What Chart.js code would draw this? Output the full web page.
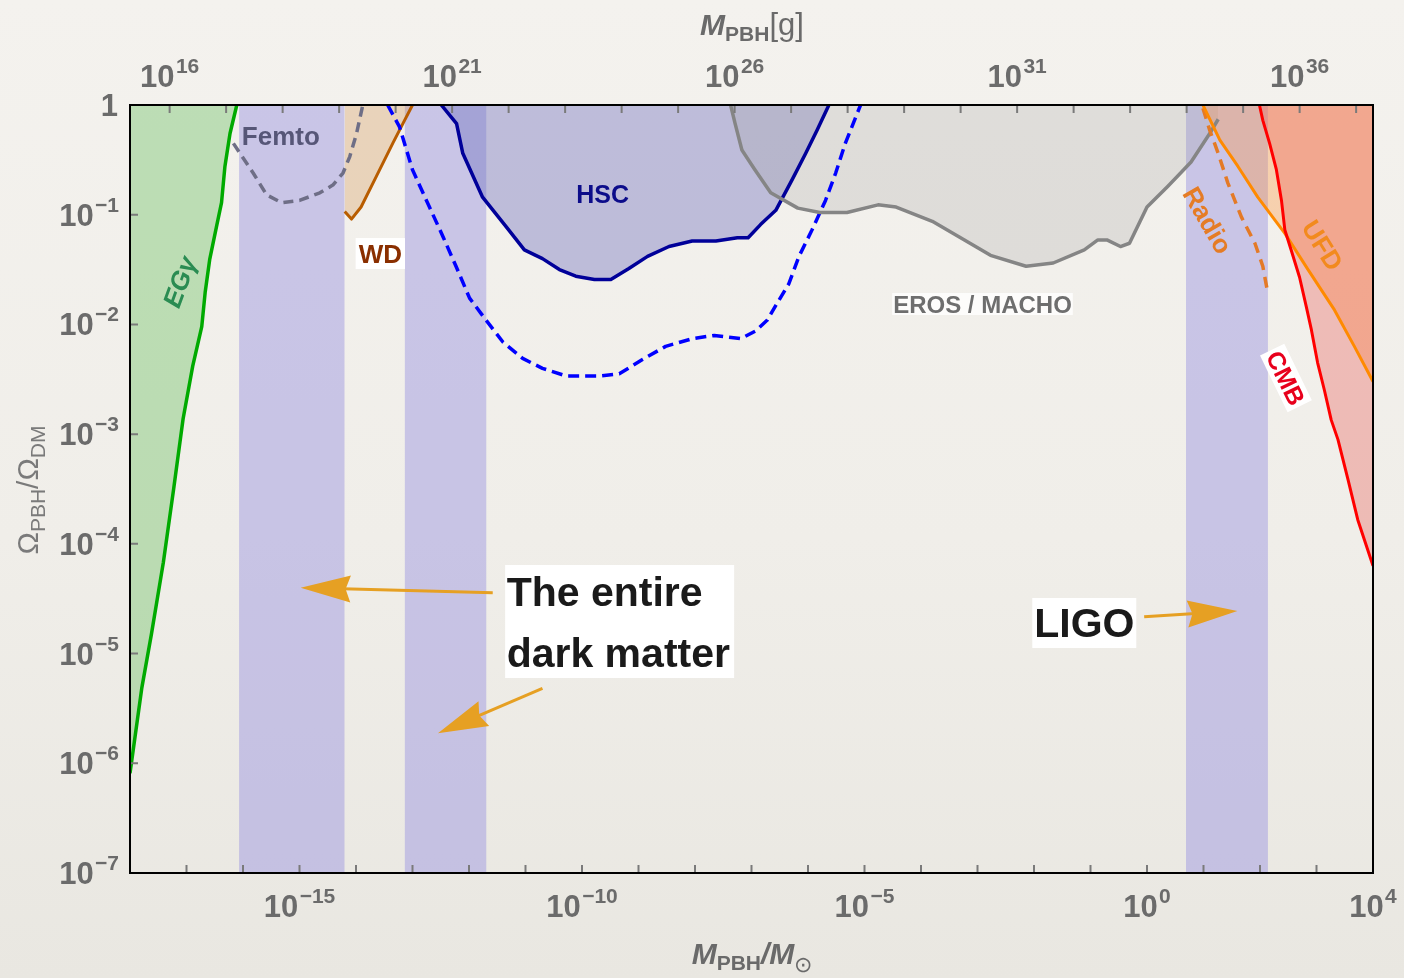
<!DOCTYPE html>
<html lang="en">
<head>
<meta charset="UTF-8">
<title>PBH abundance constraints</title>
<script src="https://cdn.jsdelivr.net/npm/chart.js"></script>
<style>
  html, body { margin: 0; padding: 0; }
  body {
    width: 1404px; height: 978px; overflow: hidden;
    background: linear-gradient(180deg, #f4f2ee 0%, #f0eee9 55%, #e9e7e1 100%);
  }
  .wrap { position: relative; width: 1404px; height: 978px; }
</style>
</head>
<body>
<div class="wrap"><canvas id="pbhChart"></canvas></div>

<script>
// All curves as log10 values:
// logM = log10(M_PBH / M_sun), logF = log10(Omega_PBH / Omega_DM)
const egLogM = [-18, -17.79, -17.62, -17.41, -17.23, -17.06, -16.89, -16.73, -16.67, -16.59, -16.47, -16.38, -16.32, -16.23, -16.11];
const egLogF = [-6.09, -5.31, -4.82, -4.17, -3.51, -2.86, -2.38, -2.02, -1.71, -1.41, -1.11, -0.89, -0.56, -0.26, 0];

const femtoLogM = [-16.17, -15.82, -15.58, -15.32, -15.00, -14.64, -14.41, -14.23, -14.11, -13.99, -13.88];
const femtoLogF = [-0.35, -0.62, -0.82, -0.89, -0.87, -0.80, -0.73, -0.62, -0.47, -0.26, 0];

const wdLogM = [-14.20, -14.08, -13.91, -13.64, -13.35, -13.17, -13.00];
const wdLogF = [-0.97, -1.04, -0.93, -0.65, -0.35, -0.17, 0];

const hscLogM = [-12.49, -12.22, -12.11, -11.76, -11.34, -11.02, -10.70, -10.40, -10.11, -9.78, -9.49, -9.17, -8.84, -8.46, -8.05, -7.63, -7.25, -7.06, -6.84, -6.57, -6.28, -6.04, -5.84, -5.63];
const hscLogF = [0, -0.17, -0.44, -0.84, -1.11, -1.32, -1.40, -1.50, -1.56, -1.59, -1.59, -1.49, -1.38, -1.29, -1.24, -1.24, -1.21, -1.21, -1.09, -0.96, -0.68, -0.44, -0.23, 0];

const hscProjLogM = [-13.44, -13.23, -13.00, -12.70, -12.46, -12.23, -11.99, -11.70, -11.40, -11.05, -10.70, -10.28, -9.70, -9.34, -8.93, -8.52, -8.05, -7.66, -7.19, -6.93, -6.72, -6.55, -6.34, -6.16, -5.93, -5.69, -5.51, -5.34, -5.07];
const hscProjLogF = [0, -0.20, -0.59, -0.93, -1.20, -1.47, -1.76, -1.96, -2.16, -2.31, -2.40, -2.47, -2.47, -2.45, -2.32, -2.20, -2.13, -2.10, -2.13, -2.06, -1.96, -1.81, -1.63, -1.38, -1.14, -0.87, -0.62, -0.35, 0];

const erosLogM = [-7.37, -7.29, -7.17, -6.94, -6.66, -6.18, -5.79, -5.31, -4.76, -4.44, -3.80, -3.33, -2.77, -2.14, -1.66, -1.11, -0.87, -0.71, -0.47, -0.31, 0.00, 0.37, 0.78, 1.11, 1.26];
const erosLogF = [0, -0.17, -0.41, -0.59, -0.80, -0.94, -0.98, -0.98, -0.91, -0.93, -1.06, -1.20, -1.37, -1.47, -1.44, -1.32, -1.23, -1.23, -1.29, -1.26, -0.93, -0.74, -0.52, -0.26, -0.13];

const radioLogM = [0.99, 1.11, 1.26, 1.43, 1.67, 1.91, 2.05, 2.14];
const radioLogF = [-0.03, -0.23, -0.44, -0.71, -1.02, -1.26, -1.47, -1.72];

const ufdLogM = [0.99, 1.29, 1.61, 1.96, 2.44, 2.85, 3.32, 3.67, 4.0];
const ufdLogF = [0, -0.32, -0.56, -0.84, -1.17, -1.50, -1.87, -2.20, -2.52];

const cmbLogM = [1.99, 2.05, 2.17, 2.29, 2.38, 2.44, 2.55, 2.70, 2.82, 2.91, 3.02, 3.14, 3.26, 3.38, 3.56, 3.73, 4.0];
const cmbLogF = [0, -0.14, -0.35, -0.59, -0.87, -1.14, -1.32, -1.57, -1.84, -2.05, -2.35, -2.60, -2.87, -3.05, -3.42, -3.78, -4.20];

// mass windows where PBHs could be the entire dark matter (log10 M/M_sun)
const bandStartLogM = [-16.07, -13.14, 0.69];
const bandEndLogM = [-14.20, -11.69, 2.14];

// axis ticks (exponents)
const bottomTickExps = [-18, -17, -16, -15, -14, -13, -12, -11, -10, -9, -8, -7, -6, -5, -4, -3, -2, -1, 0, 1, 2, 3, 4];
const bottomLabelExps = [-15, -10, -5, 0, 4];
const topTickExps = [16, 17, 18, 19, 20, 21, 22, 23, 24, 25, 26, 27, 28, 29, 30, 31, 32, 33, 34, 35, 36, 37];
const topLabelExps = [16, 21, 26, 31, 36];
const leftTickExps = [-7, -6, -5, -4, -3, -2, -1, 0];
const solarMassGrams = 1.989e33;

const SANS = "'Liberation Sans', Arial, Helvetica, sans-serif";
const TICK_GRAY = '#6b6b6b';

function curve(logM, logF) {
  return logM.map((m, i) => ({ x: Math.pow(10, m), y: Math.pow(10, logF[i]) }));
}

function line(label, logM, logF, color, width, extra) {
  return Object.assign({
    label: label,
    data: curve(logM, logF),
    borderColor: color,
    borderWidth: width,
    pointRadius: 0,
    tension: 0,
    borderJoinStyle: 'round',
    fill: false
  }, extra || {});
}

const bandSets = bandStartLogM.map((s, i) => ({
  label: 'DM window ' + (i + 1),
  data: [{ x: Math.pow(10, s), y: 1 }, { x: Math.pow(10, bandEndLogM[i]), y: 1 }],
  borderWidth: 0,
  pointRadius: 0,
  fill: 'start',
  backgroundColor: 'rgba(150, 145, 225, 0.45)'
}));

const datasets = [
  line('CMB', cmbLogM, cmbLogF, '#ff0000', 3, { fill: 'end', backgroundColor: 'rgba(232, 92, 85, 0.35)' }),
  line('UFD', ufdLogM, ufdLogF, '#ff8a00', 3, { fill: 'end', backgroundColor: 'rgba(255, 150, 60, 0.35)' }),
  line('Radio', radioLogM, radioLogF, '#e47a26', 3.5, { borderDash: [11, 7] }),
  line('EROS/MACHO', erosLogM, erosLogF, '#858585', 3.5, { fill: 'end', backgroundColor: 'rgba(160, 160, 160, 0.24)' }),
  line('HSC future', hscProjLogM, hscProjLogF, '#0000ff', 3.5, { borderDash: [11, 6] }),
  line('HSC', hscLogM, hscLogF, '#000099', 3.5, { fill: 'end', backgroundColor: 'rgba(110, 110, 190, 0.40)' }),
  line('WD', wdLogM, wdLogF, '#b85c00', 3, { fill: 'end', backgroundColor: 'rgba(210, 150, 80, 0.32)' }),
  line('Femto', femtoLogM, femtoLogF, '#6e6e86', 3.5, { borderDash: [10, 6] }),
  line('EGgamma', egLogM, egLogF, '#00aa00', 3.5, { fill: 'end', backgroundColor: 'rgba(100, 190, 90, 0.38)' })
].concat(bandSets);

// text made of runs [text, font, dy]
function drawRuns(ctx, runs, x, y, align) {
  let total = 0;
  runs.forEach(r => { ctx.font = r[1]; total += ctx.measureText(r[0]).width; });
  let cx = align === 'center' ? x - total / 2 : (align === 'right' ? x - total : x);
  ctx.textAlign = 'left';
  ctx.textBaseline = 'alphabetic';
  runs.forEach(r => {
    ctx.font = r[1];
    ctx.fillText(r[0], cx, y + r[2]);
    cx += ctx.measureText(r[0]).width;
  });
}

function powerRuns(exp) {
  const sup = exp < 0 ? '\u2212' + Math.abs(exp) : String(exp);
  return [['10', 'bold 31px ' + SANS, 0], ['\u2009', '7px ' + SANS, 0], [sup, 'bold 21px ' + SANS, -14]];
}

function textLabel(ctx, text, x, y, o) {
  ctx.save();
  ctx.translate(x, y);
  ctx.rotate((o.angle || 0) * Math.PI / 180);
  ctx.font = o.font;
  const w = ctx.measureText(text).width;
  if (o.box) {
    ctx.fillStyle = o.box;
    ctx.fillRect(-w / 2 - o.padX, -o.boxH / 2, w + 2 * o.padX, o.boxH);
  }
  ctx.fillStyle = o.color;
  ctx.textAlign = 'center';
  ctx.textBaseline = 'alphabetic';
  ctx.fillText(text, 0, o.size * 0.36);
  ctx.restore();
}

function arrow(ctx, x0, y0, x1, y1) {
  const dx = x1 - x0, dy = y1 - y0;
  const len = Math.sqrt(dx * dx + dy * dy);
  const ux = dx / len, uy = dy / len;
  const nx = -uy, ny = ux;
  ctx.save();
  ctx.strokeStyle = '#e6a023';
  ctx.fillStyle = '#e6a023';
  ctx.lineWidth = 3;
  ctx.beginPath();
  ctx.moveTo(x0, y0);
  ctx.lineTo(x1 - ux * 42, y1 - uy * 42);
  ctx.stroke();
  ctx.beginPath();
  ctx.moveTo(x1, y1);
  ctx.lineTo(x1 - ux * 50 + nx * 13.5, y1 - uy * 50 + ny * 13.5);
  ctx.lineTo(x1 - ux * 45, y1 - uy * 45);
  ctx.lineTo(x1 - ux * 50 - nx * 13.5, y1 - uy * 50 - ny * 13.5);
  ctx.closePath();
  ctx.fill();
  ctx.restore();
}

const pbhDecor = {
  id: 'pbhDecor',
  afterDatasetsDraw(chart) {
    const ctx = chart.ctx;
    const xs = chart.scales.x, ys = chart.scales.y;
    const px = v => xs.getPixelForValue(Math.pow(10, v));
    const py = v => ys.getPixelForValue(Math.pow(10, v));

    textLabel(ctx, 'Femto', px(-15.33), py(-0.283), { font: 'bold 26px ' + SANS, size: 26, color: '#565677' });
    textLabel(ctx, 'WD', px(-13.57), py(-1.354), { font: 'bold 26px ' + SANS, size: 26, color: '#8a2f00', box: '#ffffff', padX: 3, boxH: 31 });
    textLabel(ctx, 'HSC', px(-9.634), py(-0.811), { font: 'bold 25px ' + SANS, size: 25, color: '#0c0c8a' });
    textLabel(ctx, 'EG\u03b3', px(-17.13), py(-1.613), { font: 'italic bold 26px ' + SANS, size: 26, color: '#2a8c52', angle: -70 });
    textLabel(ctx, 'EROS / MACHO', px(-2.912), py(-1.814), { font: 'bold 24px ' + SANS, size: 24, color: '#6e6e6e', box: 'rgba(255,255,255,0.8)', padX: 1, boxH: 22 });
    textLabel(ctx, 'Radio', px(1.08), py(-1.048), { font: 'bold 26px ' + SANS, size: 26, color: '#e57c25', angle: 60 });
    textLabel(ctx, 'UFD', px(3.113), py(-1.276), { font: 'bold 26px ' + SANS, size: 26, color: '#f28a1e', angle: 58 });
    textLabel(ctx, 'CMB', px(2.459), py(-2.488), { font: 'bold 25px ' + SANS, size: 25, color: '#e8001c', angle: 64, box: '#ffffff', padX: 3, boxH: 27 });

    // "The entire dark matter" box
    const dmX = px(-9.334), dmY = py(-4.708);
    ctx.save();
    ctx.fillStyle = '#ffffff';
    ctx.fillRect(dmX - 114.5, dmY - 56.5, 229, 113);
    ctx.fillStyle = '#1a1a1a';
    ctx.font = 'bold 41px ' + SANS;
    ctx.textAlign = 'left';
    ctx.textBaseline = 'alphabetic';
    ctx.fillText('The entire', dmX - 113, dmY - 16);
    ctx.fillText('dark matter', dmX - 113, dmY + 45);
    // LIGO box
    const lgX = px(-1.11), lgY = py(-4.721);
    ctx.fillStyle = '#ffffff';
    ctx.fillRect(lgX - 52, lgY - 25, 104, 50);
    ctx.fillStyle = '#1a1a1a';
    ctx.fillText('LIGO', lgX - 50, lgY + 14);
    ctx.restore();

    arrow(ctx, px(-11.58), py(-4.445), px(-14.98), py(-4.40));
    arrow(ctx, px(-10.70), py(-5.317), px(-12.55), py(-5.727));
    arrow(ctx, px(-0.05), py(-4.664), px(1.60), py(-4.612));
  },
  afterDraw(chart) {
    const ctx = chart.ctx;
    const a = chart.chartArea;
    const xs = chart.scales.x, x2 = chart.scales.x2, ys = chart.scales.y;
    ctx.save();
    // inward tick marks
    ctx.strokeStyle = '#7a7a7a';
    ctx.lineWidth = 2;
    ctx.beginPath();
    bottomTickExps.forEach(e => {
      const x = xs.getPixelForValue(Math.pow(10, e));
      ctx.moveTo(x, a.bottom); ctx.lineTo(x, a.bottom - 8);
    });
    topTickExps.forEach(e => {
      const x = x2.getPixelForValue(Math.pow(10, e));
      ctx.moveTo(x, a.top); ctx.lineTo(x, a.top + 8);
    });
    leftTickExps.forEach(e => {
      const y = ys.getPixelForValue(Math.pow(10, e));
      ctx.moveTo(a.left, y); ctx.lineTo(a.left + 8, y);
    });
    ctx.stroke();
    // frame
    ctx.strokeStyle = '#000000';
    ctx.lineWidth = 2;
    ctx.strokeRect(a.left, a.top, a.right - a.left, a.bottom - a.top);

    // tick labels
    ctx.fillStyle = TICK_GRAY;
    bottomLabelExps.forEach(e => {
      drawRuns(ctx, powerRuns(e), xs.getPixelForValue(Math.pow(10, e)), 917, 'center');
    });
    topLabelExps.forEach(e => {
      drawRuns(ctx, powerRuns(e), x2.getPixelForValue(Math.pow(10, e)), 87, 'center');
    });
    leftTickExps.forEach(e => {
      const y = ys.getPixelForValue(Math.pow(10, e));
      if (e === 0) drawRuns(ctx, [['1', 'bold 31px ' + SANS, 0]], 118, y + 11, 'right');
      else drawRuns(ctx, powerRuns(e), 119, y + 11, 'right');
    });

    // axis titles
    ctx.fillStyle = '#6a6a6a';
    drawRuns(ctx, [
      ['M', 'italic bold 30px ' + SANS, 0],
      ['PBH', 'bold 21px ' + SANS, 6],
      ['[g]', '31px ' + SANS, 0]
    ], 752, 35, 'center');
    drawRuns(ctx, [
      ['M', 'italic bold 30px ' + SANS, 0],
      ['PBH', 'bold 21px ' + SANS, 6],
      ['/', 'italic bold 30px ' + SANS, 0],
      ['M', 'italic bold 30px ' + SANS, 0],
      ['\u2299', '22px ' + SANS, 8]
    ], 752, 964, 'center');
    ctx.save();
    ctx.translate(38, 490);
    ctx.rotate(-Math.PI / 2);
    ctx.fillStyle = '#7a7a7a';
    drawRuns(ctx, [
      ['\u03a9', '30px ' + SANS, 0],
      ['PBH', '21px ' + SANS, 7],
      ['/', '30px ' + SANS, 0],
      ['\u03a9', '30px ' + SANS, 0],
      ['DM', '21px ' + SANS, 7]
    ], 0, 0, 'center');
    ctx.restore();
    ctx.restore();
  }
};

const chart = new Chart(document.getElementById('pbhChart'), {
  type: 'line',
  data: { datasets: datasets },
  options: {
    responsive: true,
    maintainAspectRatio: false,
    animation: false,
    layout: { padding: { left: 130, top: 105, right: 31, bottom: 105 } },
    scales: {
      x: { type: 'logarithmic', min: 1e-18, max: 1e4, display: false },
      x2: { type: 'logarithmic', axis: 'x', position: 'top', min: 1e-18 * solarMassGrams, max: 1e4 * solarMassGrams, display: false },
      y: { type: 'logarithmic', min: 1e-7, max: 1, display: false }
    },
    plugins: {
      legend: { display: false },
      tooltip: { enabled: false },
      filler: { drawTime: 'beforeDatasetsDraw' }
    }
  },
  plugins: [pbhDecor]
});
</script>
</body>
</html>
